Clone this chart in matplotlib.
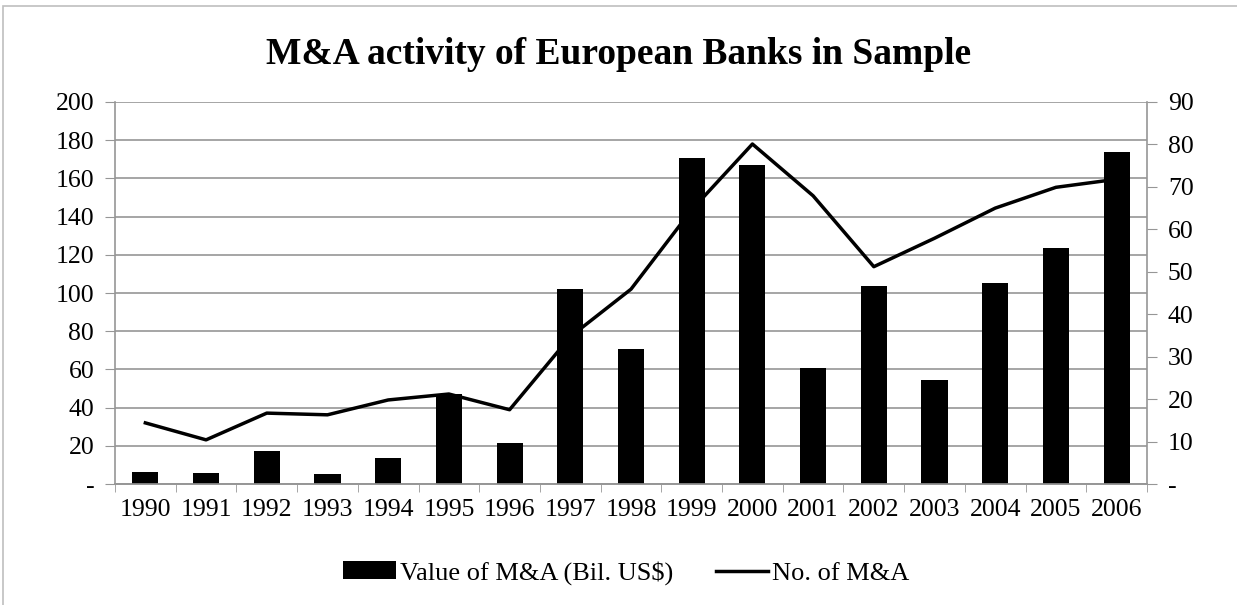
import matplotlib
matplotlib.use("Agg")
import matplotlib.pyplot as plt
from matplotlib.patches import Rectangle
import numpy as np

years = [str(y) for y in range(1990, 2007)]
value_bn = [6.2, 5.6, 17.1, 5.4, 13.8, 47.3, 21.3, 101.9, 70.8, 170.7, 167.2,
            60.6, 103.8, 54.5, 105.0, 123.4, 173.8]
num_deals = [14.4, 10.4, 16.7, 16.3, 19.8, 21.2, 17.5, 34.7, 45.9, 64.6, 80.1,
             67.9, 51.2, 57.9, 65.0, 69.9, 71.8]

plt.rcParams["font.family"] = ["Liberation Serif", "DejaVu Serif"]
grey = "#969696"
fs = 18.5

fig = plt.figure(figsize=(12.37, 6.05), dpi=100)
ax = fig.add_axes([115 / 1237, 1 - 484 / 605, 1032 / 1237, 382 / 605])
ax2 = ax.twinx()

x = np.arange(len(years))
bars = ax.bar(x, value_bn, width=0.43, color="black", zorder=3)
line, = ax2.plot(x, num_deals, color="black", lw=2.5, zorder=4)

ax.set_xlim(-0.5, len(years) - 0.5)
ax.set_ylim(0, 200)
ax2.set_ylim(0, 90)
ax.set_yticks(range(0, 201, 20))
ax.set_yticklabels(["-"] + [str(v) for v in range(20, 201, 20)])
ax2.set_yticks(range(0, 91, 10))
ax2.set_yticklabels(["-"] + [str(v) for v in range(10, 91, 10)])

ax.set_xticks(x)
ax.set_xticklabels(years)
ax.set_xticks(np.arange(-0.5, len(years), 1), minor=True)
ax.tick_params(axis="x", which="major", length=0, pad=11, labelsize=fs)
ax.tick_params(axis="x", which="minor", length=6, color=grey)
ax.tick_params(axis="y", length=7, color=grey, pad=8, labelsize=fs)
ax2.tick_params(axis="y", length=7, color=grey, pad=8, labelsize=fs)

ax.grid(axis="y", color=grey, lw=1.2, zorder=0)
ax.set_axisbelow(True)
for a in (ax, ax2):
    a.spines["top"].set_visible(False)
    for s in ("left", "right", "bottom"):
        a.spines[s].set_color(grey)
        a.spines[s].set_linewidth(1.2)
ax2.spines["left"].set_visible(False)
ax.spines["right"].set_visible(False)

fig.suptitle("M&A activity of European Banks in Sample", y=1 - 55 / 605, va="center",
             fontsize=27, fontweight="bold")

fig.legend([bars, line], ["Value of M&A (Bil. US$)", "No. of M&A"],
           loc="center", bbox_to_anchor=(0.5065, 1 - 573 / 605), ncol=2, frameon=False,
           fontsize=19, handlelength=2.0, handleheight=0.65, handletextpad=0.15,
           columnspacing=1.6)

fig.patches.append(Rectangle((3 / 1237, -0.1), 1.2, 1.1 - 6 / 605, transform=fig.transFigure,
                             fill=False, edgecolor="#bfbfbf", lw=1.2))

fig.savefig("out.png", dpi=100)
